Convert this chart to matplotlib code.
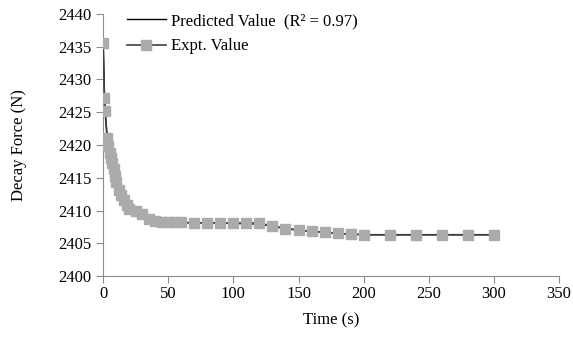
import numpy as np
import matplotlib.pyplot as plt

plt.rcParams['font.family'] = 'Liberation Serif'
plt.rcParams['font.size'] = 12

# Time points (s)
time = [0, 1, 1.5, 3, 4, 5, 6, 7, 8, 9, 10, 12, 14, 16, 18, 20, 25, 30, 35, 40, 45, 50, 55, 60,
        70, 80, 90, 100, 110, 120, 130, 140, 150, 160, 170, 180, 190, 200,
        220, 240, 260, 280, 300]

# Experimental decay force (N)
expt = [2435.6, 2427.1, 2425.2, 2421.1, 2419.8, 2418.8, 2418.0, 2417.2, 2416.3, 2415.3, 2414.3,
        2413.2, 2412.4, 2411.6, 2410.8, 2410.2, 2409.9, 2409.4, 2408.7, 2408.4, 2408.3, 2408.2,
        2408.2, 2408.2, 2408.1, 2408.1, 2408.1, 2408.1, 2408.1, 2408.1, 2407.6, 2407.2, 2407.0,
        2406.8, 2406.7, 2406.5, 2406.4, 2406.3, 2406.3, 2406.3, 2406.3, 2406.3, 2406.3]

# Predicted decay force (N)
predicted = [2436.0, 2428.0, 2425.5, 2421.5, 2419.9, 2418.7, 2417.7, 2416.8, 2416.0, 2415.2, 2414.5,
             2413.3, 2412.3, 2411.5, 2410.9, 2410.4, 2409.6, 2409.1, 2408.8, 2408.6, 2408.4, 2408.3,
             2408.2, 2408.2, 2408.1, 2408.1, 2408.1, 2408.0, 2408.0, 2407.9, 2407.6, 2407.3, 2407.0,
             2406.8, 2406.7, 2406.5, 2406.4, 2406.3, 2406.3, 2406.3, 2406.3, 2406.3, 2406.3]

fig = plt.figure(figsize=(5.73, 3.54), dpi=100)
ax = fig.add_axes([0.18, 0.2203, 0.7956, 0.7402])

ax.plot(time, predicted, color='black', linewidth=1.0, label='Predicted Value  (R² = 0.97)', zorder=2)
ax.plot(time, expt, color='#404040', linewidth=1.2, marker='s', markersize=7.5,
        markerfacecolor='#ababab', markeredgecolor='#ababab', label='Expt. Value', zorder=3)

ax.set_xlim(0, 350)
ax.set_ylim(2400, 2440)
ax.set_xticks(np.arange(0, 351, 50))
ax.set_yticks(np.arange(2400, 2441, 5))

for side in ['top', 'right']:
    ax.spines[side].set_visible(False)
for side in ['left', 'bottom']:
    ax.spines[side].set_color('#8c8c8c')
ax.tick_params(direction='out', length=5, color='#8c8c8c', labelcolor='black')
ax.tick_params(axis='x', pad=2)

ax.set_xlabel('Time (s)', labelpad=8)
ax.set_ylabel('Decay Force (N)', labelpad=22)

ax.legend(loc='upper left', bbox_to_anchor=(0.02, 1.06), frameon=False,
          handlelength=2.3, handletextpad=0.3, labelspacing=0.55)

fig.savefig('out.png', dpi=100)
